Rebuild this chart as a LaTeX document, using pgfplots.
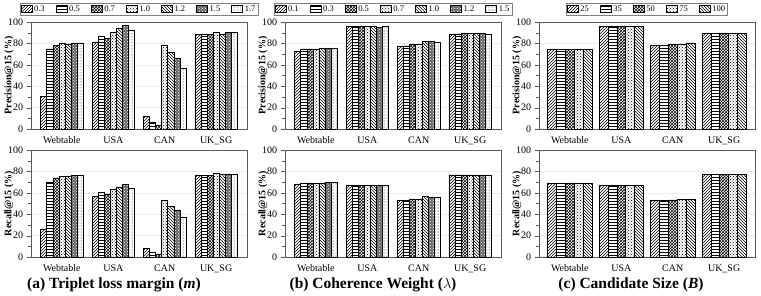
\documentclass[border=0pt]{standalone}
\usepackage{fontspec}
\setmainfont{Liberation Serif}
\usepackage{pgfplots}
\usepackage{pgfplotstable}
\pgfplotsset{compat=1.18}
\usetikzlibrary{patterns}

\pgfplotstableread{
x s1 s2 s3 s4 s5 s6 s7
0 30.5 75.0 78.5 80.0 79.5 80.5 80.5
1 81.5 86.3 84.7 90.6 93.8 96.9 92.2
2 12.0 6.0 3.4 78.0 71.3 65.7 56.7
3 88.5 88.5 88.5 90.0 89.0 90.0 90.0
}\aP
\pgfplotstableread{
x s1 s2 s3 s4 s5 s6 s7
0 26.4 69.9 73.9 75.8 75.8 76.4 76.4
1 56.5 60.2 59.0 63.4 65.5 67.7 64.3
2 7.8 4.0 2.2 53.4 47.5 44.1 37.6
3 76.4 76.4 76.4 78.0 77.0 77.6 77.6
}\aR
\pgfplotstableread{
x s1 s2 s3 s4 s5 s6 s7
0 72.9 74.8 74.8 74.8 75.4 75.4 75.4
1 96.0 96.0 96.0 95.6 95.6 94.7 96.0
2 77.6 77.6 79.4 79.4 82.0 82.0 81.3
3 88.8 88.8 89.4 89.4 89.4 89.4 88.8
}\bP
\pgfplotstableread{
x s1 s2 s3 s4 s5 s6 s7
0 68.0 69.3 69.3 69.3 69.3 69.9 69.6
1 67.1 67.1 67.1 66.8 67.1 66.8 66.8
2 52.8 53.4 54.3 54.3 56.5 55.9 55.9
3 76.7 76.7 76.7 76.7 76.7 76.7 76.4
}\bR
\pgfplotstableread{
x s1 s2 s3 s4 s5
0 74.6 74.6 74.6 74.6 74.6
1 96.0 96.0 96.0 96.0 96.0
2 78.5 78.5 79.4 79.4 80.4
3 89.1 89.1 89.1 89.1 89.1
}\cP
\pgfplotstableread{
x s1 s2 s3 s4 s5
0 69.3 69.3 69.3 69.3 69.3
1 66.8 66.8 66.8 66.8 66.8
2 53.4 53.4 53.4 54.0 54.3
3 77.0 77.0 77.0 77.0 77.0
}\cR

\tikzset{
  p1/.style={draw=black, pattern=north east lines},
  p2/.style={draw=black, pattern=horizontal lines},
  p3/.style={draw=black, pattern=crosshatch},
  p4/.style={draw=black, fill=white, postaction={pattern=crosshatch dots}},
  p5/.style={draw=black, pattern=north west lines},
  p6/.style={draw=black, fill=black!60, postaction={pattern=crosshatch dots, pattern color=white}},
  p7/.style={draw=black, fill=white, postaction={pattern=dots}},
}

\pgfplotsset{
  base/.style={
    scale only axis, width=216pt, height=107pt,
    anchor=south west,
    ybar=0pt,
    ymin=0, ymax=100, ytick={0,20,...,100}, minor y tick num=1,
    xmin=-0.6, xmax=3.6,
    xtick={0,1,2,3}, xticklabels={Webtable,USA,CAN,UK\_SG},
    x tick style={draw=none},
    y tick style={gray!70!black},
    tick align=outside, tick pos=left,
    axis line style={gray!70!black},
    ymajorgrids, grid style={gray!15},
    tick label style={font=\fontsize{10}{12}\selectfont},
    /pgf/number format/assume math mode=true,
    every axis y label/.style={at={(axis description cs:-0.102,0.5)}, rotate=90,
      anchor=center, font=\bfseries\fontsize{10}{12}\selectfont},
    every axis plot/.append style={line width=0.5pt},
    area legend,
    legend image code/.code={\draw[#1] (0pt,-3.5pt) rectangle (11pt,3.5pt);},
    legend style={at={(0.5,1.18)}, anchor=north, legend columns=-1,
      draw=gray, inner sep=0.5pt,
      font=\fontsize{8.5}{9}\selectfont,
      /tikz/every even column/.append style={column sep=9pt}},
  },
  seven/.style={base, bar width=0.118},
  five/.style={base, bar width=0.172},
}

\begin{document}
\begin{tikzpicture}
\useasboundingbox (0,0) rectangle (761pt,295pt);

% (a) precision
\begin{axis}[seven, at={(31pt,166pt)}, ylabel={Precision@15 (\%)}]
\addplot[p1] table[x=x,y=s1]{\aP};
\addplot[p2] table[x=x,y=s2]{\aP};
\addplot[p3] table[x=x,y=s3]{\aP};
\addplot[p4] table[x=x,y=s4]{\aP};
\addplot[p5] table[x=x,y=s5]{\aP};
\addplot[p6] table[x=x,y=s6]{\aP};
\addplot[p7] table[x=x,y=s7]{\aP};
\legend{0.3,0.5,0.7,1.0,1.2,1.5,1.7}
\end{axis}
% (a) recall
\begin{axis}[seven, at={(31pt,38pt)}, ylabel={Recall@15 (\%)}]
\addplot[p1] table[x=x,y=s1]{\aR};
\addplot[p2] table[x=x,y=s2]{\aR};
\addplot[p3] table[x=x,y=s3]{\aR};
\addplot[p4] table[x=x,y=s4]{\aR};
\addplot[p5] table[x=x,y=s5]{\aR};
\addplot[p6] table[x=x,y=s6]{\aR};
\addplot[p7] table[x=x,y=s7]{\aR};
\end{axis}

% (b) precision
\begin{axis}[seven, at={(285pt,166pt)}, ylabel={Precision@15 (\%)}]
\addplot[p1] table[x=x,y=s1]{\bP};
\addplot[p2] table[x=x,y=s2]{\bP};
\addplot[p3] table[x=x,y=s3]{\bP};
\addplot[p4] table[x=x,y=s4]{\bP};
\addplot[p5] table[x=x,y=s5]{\bP};
\addplot[p6] table[x=x,y=s6]{\bP};
\addplot[p7] table[x=x,y=s7]{\bP};
\legend{0.1,0.3,0.5,0.7,1.0,1.2,1.5}
\end{axis}
% (b) recall
\begin{axis}[seven, at={(285pt,38pt)}, ylabel={Recall@15 (\%)}]
\addplot[p1] table[x=x,y=s1]{\bR};
\addplot[p2] table[x=x,y=s2]{\bR};
\addplot[p3] table[x=x,y=s3]{\bR};
\addplot[p4] table[x=x,y=s4]{\bR};
\addplot[p5] table[x=x,y=s5]{\bR};
\addplot[p6] table[x=x,y=s6]{\bR};
\addplot[p7] table[x=x,y=s7]{\bR};
\end{axis}

% (c) precision
\begin{axis}[five, at={(539pt,166pt)}, ylabel={Precision@15 (\%)}]
\addplot[p1] table[x=x,y=s1]{\cP};
\addplot[p2] table[x=x,y=s2]{\cP};
\addplot[p3] table[x=x,y=s3]{\cP};
\addplot[p4] table[x=x,y=s4]{\cP};
\addplot[p5] table[x=x,y=s5]{\cP};
\legend{25,35,50,75,100}
\end{axis}
% (c) recall
\begin{axis}[five, at={(539pt,38pt)}, ylabel={Recall@15 (\%)}]
\addplot[p1] table[x=x,y=s1]{\cR};
\addplot[p2] table[x=x,y=s2]{\cR};
\addplot[p3] table[x=x,y=s3]{\cR};
\addplot[p4] table[x=x,y=s4]{\cR};
\addplot[p5] table[x=x,y=s5]{\cR};
\end{axis}

\node[font=\bfseries\fontsize{15.5}{17}\selectfont] at (114pt,10.5pt) {(a) Triplet loss margin (\textit{m})};
\node[font=\bfseries\fontsize{15.5}{17}\selectfont] at (373pt,10.5pt) {(b) Coherence Weight ($\lambda$)};
\node[font=\bfseries\fontsize{15.5}{17}\selectfont] at (631pt,10.5pt) {(c) Candidate Size (\textit{B})};
\end{tikzpicture}
\end{document}
